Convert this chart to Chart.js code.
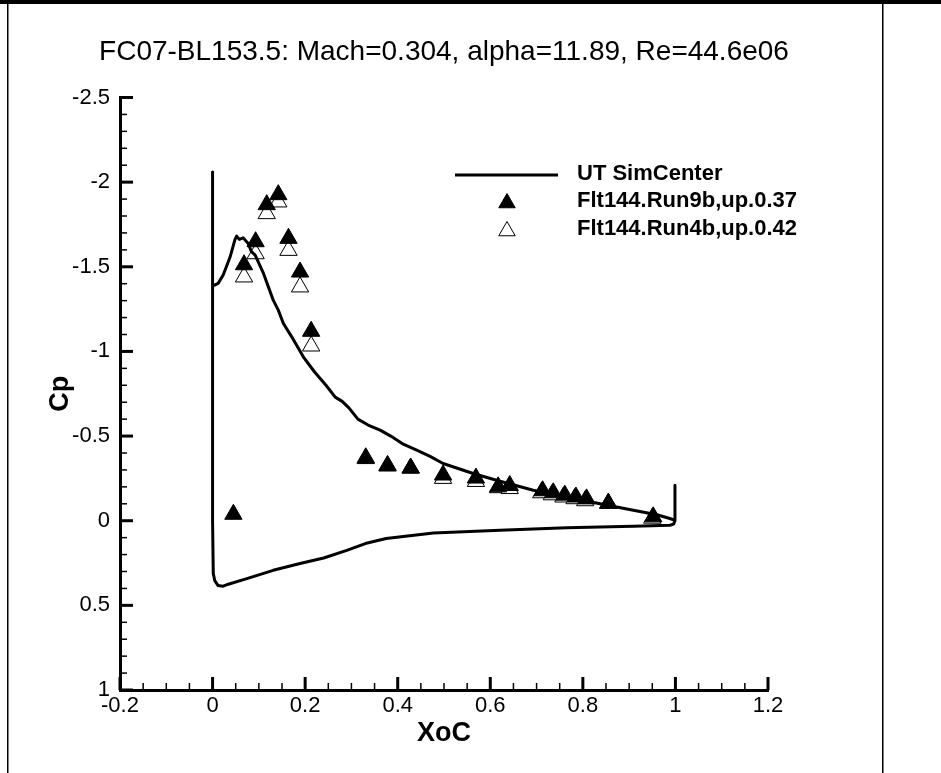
<!DOCTYPE html>
<html>
<head>
<meta charset="utf-8">
<script src="https://cdn.jsdelivr.net/npm/chart.js@4.4.0/dist/chart.umd.min.js"></script>
<style>
  html, body { margin: 0; padding: 0; background: #fff; }
  #wrap { width: 941px; height: 773px; }
</style>
</head>
<body>
<div id="wrap"><canvas id="cpChart" width="941" height="773"></canvas></div>
<script>
// текст заголовка и подписи осей
const chartTitle = 'FC07-BL153.5: Mach=0.304, alpha=11.89, Re=44.6e06'
const xTitle = 'XoC'
const yTitle = 'Cp'

// деления осей
const xTicks = [-0.2, 0, 0.2, 0.4, 0.6, 0.8, 1, 1.2]
const cpTicks = [-2.5, -2, -1.5, -1, -0.5, 0, 0.5, 1]

// расчёт UT SimCenter (нижняя поверхность от задней кромки, потом верхняя)
const cfdX = [0.999, 0.999, 0.996, 0.988, 0.909, 0.765, 0.621, 0.477, 0.375, 0.33, 0.29, 0.24,
    0.189, 0.131, 0.074, 0.034, 0.023, 0.012, 0.005, 0.0015, 0.0, 0.0,
    0.0, 0.012, 0.023, 0.038, 0.048, 0.052, 0.058, 0.066, 0.077, 0.084, 0.092, 0.11, 0.131,
    0.142, 0.153, 0.171, 0.196, 0.22, 0.245, 0.265, 0.28, 0.295, 0.314, 0.336, 0.362, 0.385,
    0.412, 0.441, 0.47, 0.498, 0.563, 0.621, 0.693, 0.765, 0.837, 0.909, 0.96, 0.988, 0.998]
const cfdCp = [-0.21, 0.0, 0.02, 0.027, 0.033, 0.042, 0.056, 0.072, 0.105, 0.135, 0.175, 0.22,
    0.253, 0.293, 0.342, 0.375, 0.387, 0.383, 0.356, 0.312, 0.0, -2.06,
    -1.386, -1.402, -1.451, -1.559, -1.658, -1.681, -1.662, -1.671, -1.638, -1.589, -1.569, -1.461, -1.303,
    -1.244, -1.165, -1.086, -0.968, -0.88, -0.8, -0.73, -0.705, -0.665, -0.6, -0.565, -0.535, -0.5,
    -0.452, -0.417, -0.38, -0.338, -0.279, -0.233, -0.18, -0.141, -0.1, -0.062, -0.035, -0.013, -0.003]

// Flt144.Run9b (закрашенные треугольники)
const run9bX = [0.045, 0.068, 0.093, 0.117, 0.142, 0.164, 0.189, 0.213, 0.331, 0.378, 0.428,
    0.498, 0.569, 0.617, 0.642, 0.713, 0.736, 0.761, 0.785, 0.808, 0.855, 0.952]
const run9bCp = [-0.038, -1.512, -1.648, -1.867, -1.926, -1.668, -1.469, -1.119, -0.367, -0.323, -0.311,
    -0.27, -0.252, -0.2, -0.208, -0.177, -0.165, -0.151, -0.14, -0.129, -0.103, -0.023]

// Flt144.Run4b (пустые треугольники)
const run4bX = [0.068, 0.093, 0.117, 0.142, 0.164, 0.189, 0.213, 0.331, 0.378, 0.428,
    0.498, 0.569, 0.617, 0.642, 0.71, 0.733, 0.758, 0.782, 0.805, 0.855, 0.95]
const run4bCp = [-1.44, -1.577, -1.814, -1.883, -1.597, -1.381, -1.032, -0.372, -0.327, -0.311,
    -0.25, -0.232, -0.195, -0.19, -0.165, -0.153, -0.14, -0.13, -0.118, -0.103, -0.015]

const fontFamily = '"Liberation Sans", Arial, Helvetica, sans-serif'

function toPoints(xs, ys) {
    return xs.map((v, i) => ({ x: v, y: ys[i] }))
}

function fmt(v) {
    return String(+v.toFixed(2))
}

// рамка вокруг картинки
const framePlugin = {
    id: 'framePlugin',
    beforeDraw(chart) {
        const ctx = chart.ctx
        ctx.save()
        ctx.fillStyle = '#fff'
        ctx.fillRect(0, 0, chart.width, chart.height)
        ctx.fillStyle = '#000'
        ctx.fillRect(0, 0, chart.width, 4)
        ctx.fillRect(7, 4, 1.5, chart.height)
        ctx.fillRect(882, 4, 1.5, chart.height)
        ctx.restore()
    }
}

// заголовок над областью графика
const titlePlugin = {
    id: 'titlePlugin',
    afterDraw(chart) {
        const ctx = chart.ctx
        const a = chart.chartArea
        ctx.save()
        ctx.fillStyle = '#000'
        ctx.font = '28px ' + fontFamily
        ctx.textAlign = 'center'
        ctx.textBaseline = 'middle'
        ctx.fillText(chartTitle, (a.left + a.right) / 2, 52)
        ctx.restore()
    }
}

// засечки внутрь графика, большие и малые
const tickPlugin = {
    id: 'tickPlugin',
    afterDraw(chart) {
        const ctx = chart.ctx
        const a = chart.chartArea
        const xs = chart.scales.x
        const ys = chart.scales.y
        ctx.save()
        ctx.strokeStyle = '#000'
        for (let i = 0; i <= 28; i++) {
            const v = -0.2 + i * 0.05
            const px = xs.getPixelForValue(v)
            const major = i % 4 === 0
            ctx.lineWidth = major ? 3 : 1.5
            ctx.beginPath()
            ctx.moveTo(px, a.bottom)
            ctx.lineTo(px, a.bottom - (major ? 13 : 7))
            ctx.stroke()
        }
        for (let i = 0; i <= 35; i++) {
            const v = -2.5 + i * 0.1
            const py = ys.getPixelForValue(v)
            const major = i % 5 === 0
            ctx.lineWidth = major ? 3 : 1.5
            ctx.beginPath()
            ctx.moveTo(a.left, py)
            ctx.lineTo(a.left + (major ? 13 : 7), py)
            ctx.stroke()
        }
        ctx.restore()
    }
}

// легенда в правом верхнем углу
const legendPlugin = {
    id: 'legendPlugin',
    afterDraw(chart) {
        const ctx = chart.ctx
        const ds = chart.data.datasets
        const textX = 577
        const rows = [174, 201, 229]
        ctx.save()
        ctx.font = 'bold 22px ' + fontFamily
        ctx.textBaseline = 'middle'
        ctx.fillStyle = '#000'

        ctx.strokeStyle = '#000'
        ctx.lineWidth = 3
        ctx.beginPath()
        ctx.moveTo(455, rows[0] + 1)
        ctx.lineTo(558, rows[0] + 1)
        ctx.stroke()
        ctx.fillText(ds[0].label, textX, rows[0])

        for (let k = 1; k <= 2; k++) {
            const cx = 507
            const cy = rows[k] + 2
            const r = 9.5
            ctx.beginPath()
            ctx.moveTo(cx, cy - r)
            ctx.lineTo(cx + r * Math.sin(2 * Math.PI / 3), cy + r / 2)
            ctx.lineTo(cx - r * Math.sin(2 * Math.PI / 3), cy + r / 2)
            ctx.closePath()
            ctx.fillStyle = ds[k].backgroundColor
            ctx.fill()
            ctx.lineWidth = 1
            ctx.stroke()
            ctx.fillStyle = '#000'
            ctx.fillText(ds[k].label, textX, rows[k])
        }
        ctx.restore()
    }
}

const canvas = document.getElementById('cpChart')
const ctx = canvas.getContext('2d')

const cpChart = new Chart(ctx, {
    type: 'scatter',
    data: {
        datasets: [{
            label: 'UT SimCenter',
            data: toPoints(cfdX, cfdCp),
            showLine: true,
            borderColor: '#000',
            backgroundColor: '#000',
            borderWidth: 3,
            borderJoinStyle: 'round',
            pointRadius: 0,
            tension: 0,
            fill: false
        }, {
            label: 'Flt144.Run9b,up.0.37',
            data: toPoints(run9bX, run9bCp),
            pointStyle: 'triangle',
            pointRadius: 10,
            backgroundColor: '#000',
            borderColor: '#000',
            borderWidth: 1
        }, {
            label: 'Flt144.Run4b,up.0.42',
            data: toPoints(run4bX, run4bCp),
            pointStyle: 'triangle',
            pointRadius: 10,
            backgroundColor: '#fff',
            borderColor: '#000',
            borderWidth: 1
        }]
    },
    options: {
        responsive: false,
        animation: false,
        events: [],
        devicePixelRatio: 1,
        layout: { padding: { left: 8, top: 97.5, right: 173, bottom: 0 } },
        plugins: {
            legend: { display: false },
            title: { display: false },
            tooltip: { enabled: false }
        },
        scales: {
            x: {
                type: 'linear',
                min: -0.2,
                max: 1.2,
                afterBuildTicks: s => { s.ticks = xTicks.map(v => ({ value: v })) },
                afterFit: s => { s.height = 83 },
                grid: { display: false, drawTicks: false },
                border: { display: true, color: '#000', width: 3 },
                ticks: {
                    color: '#000',
                    padding: 3,
                    maxRotation: 0,
                    font: { family: fontFamily, size: 22 },
                    callback: v => fmt(v)
                },
                title: {
                    display: true,
                    text: xTitle,
                    color: '#000',
                    font: { family: fontFamily, size: 27, weight: 'bold' },
                    padding: { top: 0, bottom: 23 }
                }
            },
            y: {
                type: 'linear',
                reverse: true,
                min: -2.5,
                max: 1,
                afterBuildTicks: s => { s.ticks = cpTicks.map(v => ({ value: v })) },
                afterFit: s => { s.width = 112 },
                grid: { display: false, drawTicks: false },
                border: { display: true, color: '#000', width: 3 },
                ticks: {
                    color: '#000',
                    padding: 10,
                    font: { family: fontFamily, size: 22 },
                    callback: v => fmt(v)
                },
                title: {
                    display: true,
                    text: yTitle,
                    color: '#000',
                    font: { family: fontFamily, size: 27, weight: 'bold' },
                    padding: { top: 36, bottom: 0 }
                }
            }
        }
    },
    plugins: [framePlugin, titlePlugin, tickPlugin, legendPlugin]
})
</script>
</body>
</html>
